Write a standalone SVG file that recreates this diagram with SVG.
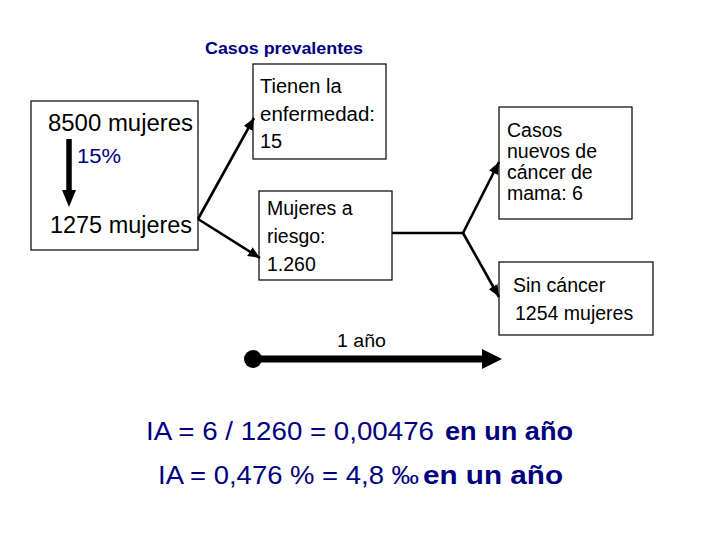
<svg xmlns="http://www.w3.org/2000/svg" width="720" height="540" viewBox="0 0 720 540">
<style>
text{font-family:"Liberation Sans",Arial,sans-serif;fill:#000}
.box{fill:#fff;stroke:#000;stroke-width:1.2}
.bt{font-size:19.5px}
.navy{fill:#000080}
.b{font-weight:bold}
.conn{stroke:#000;stroke-width:2.6;fill:none}
</style>
<defs>
<marker id="ah" markerUnits="userSpaceOnUse" markerWidth="12" markerHeight="12" viewBox="0 0 10 10" refX="10" refY="5" orient="auto">
<path d="M0,0.8 L10,5 L0,9.2 Z" fill="#000"/>
</marker>
</defs>
<rect width="720" height="540" fill="#fff"/>

<text id="title" class="navy b" x="205" y="54" font-size="16" textLength="158" lengthAdjust="spacingAndGlyphs">Casos prevalentes</text>

<g id="n-poblacion">
<rect class="box" x="31" y="101" width="167" height="149"/>
<text x="48" y="131" font-size="23.5" textLength="145" lengthAdjust="spacingAndGlyphs">8500 mujeres</text>
<text class="navy" x="77" y="163" font-size="20" textLength="44" lengthAdjust="spacingAndGlyphs">15%</text>
<text x="50" y="233" font-size="23.5" textLength="142" lengthAdjust="spacingAndGlyphs">1275 mujeres</text>
</g>

<g id="n-enfermedad">
<rect class="box" x="253" y="64" width="133" height="95"/>
<text x="260" y="93" font-size="20">Tienen la</text>
<text x="260" y="121" font-size="20" textLength="115" lengthAdjust="spacingAndGlyphs">enfermedad:</text>
<text x="260" y="148" font-size="20">15</text>
</g>

<g id="n-riesgo">
<rect class="box" x="259" y="191" width="133" height="89"/>
<text class="bt" x="267" y="215">Mujeres a</text>
<text class="bt" x="267" y="243">riesgo:</text>
<text class="bt" x="267" y="271">1.260</text>
</g>

<g id="n-nuevos">
<rect class="box" x="499" y="107" width="133" height="112"/>
<text class="bt" x="507" y="137">Casos</text>
<text class="bt" x="507" y="158">nuevos de</text>
<text class="bt" x="507" y="179">cáncer de</text>
<text class="bt" x="507" y="200">mama: 6</text>
</g>

<g id="n-sincancer">
<rect class="box" x="499" y="262" width="154" height="73"/>
<text class="bt" x="513" y="292">Sin cáncer</text>
<text class="bt" x="515" y="320">1254 mujeres</text>
</g>

<g id="connectors">
<line class="conn" x1="198" y1="219" x2="254" y2="118" marker-end="url(#ah)"/>
<line class="conn" x1="198" y1="219" x2="260" y2="258" marker-end="url(#ah)"/>
<line class="conn" x1="392" y1="233" x2="463" y2="233"/>
<line class="conn" x1="463" y1="233" x2="499" y2="162" marker-end="url(#ah)"/>
<line class="conn" x1="463" y1="233" x2="499" y2="297" marker-end="url(#ah)"/>
<line x1="69" y1="139" x2="69" y2="191" stroke="#000" stroke-width="5.5"/>
<polygon points="62,190 76,190 69,207" fill="#000"/>
<circle cx="253" cy="359" r="9" fill="#000"/>
<line x1="253" y1="359" x2="484" y2="359" stroke="#000" stroke-width="7"/>
<polygon points="482,349 502,359 482,369" fill="#000"/>
</g>

<text x="337" y="347" font-size="18" textLength="49" lengthAdjust="spacingAndGlyphs">1 año</text>

<g id="formulas">
<text class="navy" x="146" y="440" font-size="26" textLength="288" lengthAdjust="spacingAndGlyphs">IA = 6 / 1260 = 0,00476</text>
<text class="navy b" x="445" y="440" font-size="26" textLength="128" lengthAdjust="spacingAndGlyphs">en un año</text>
<text class="navy" x="158" y="484" font-size="26" textLength="261" lengthAdjust="spacingAndGlyphs">IA = 0,476 % = 4,8 ‰</text>
<text class="navy b" x="423" y="484" font-size="26" textLength="140" lengthAdjust="spacingAndGlyphs">en un año</text>
</g>
</svg>
